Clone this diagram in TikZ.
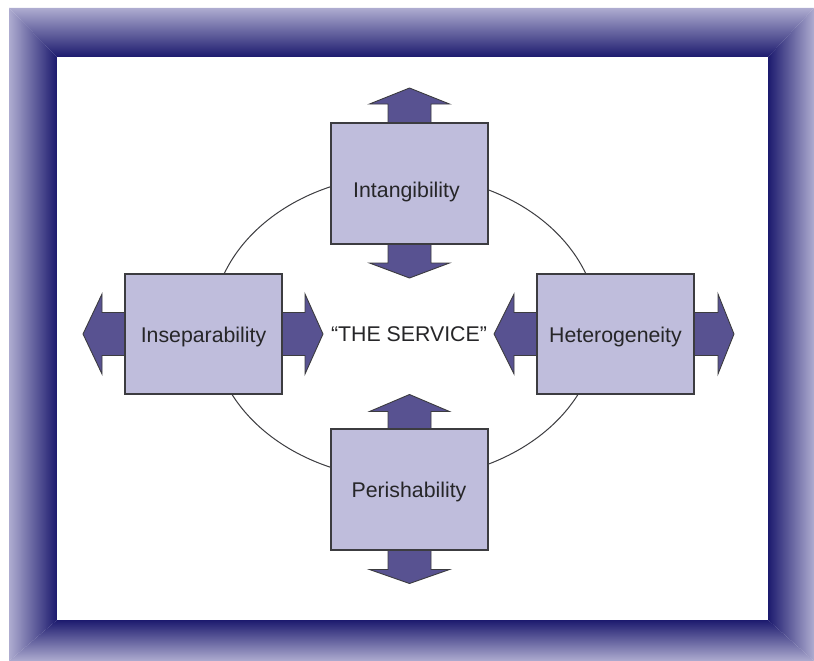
\documentclass[tikz,border=0pt]{standalone}
\usepackage{fontspec}
\setmainfont{Liberation Sans}
\usetikzlibrary{calc}
\definecolor{frameLight}{RGB}{174,172,208}
\definecolor{frameDark}{RGB}{28,26,110}
\definecolor{boxFill}{RGB}{191,189,220}
\definecolor{arrowFill}{RGB}{88,82,145}
\definecolor{edgeGray}{RGB}{60,60,64}
\definecolor{textGray}{RGB}{38,38,40}
\tikzset{
  svbox/.style={draw=edgeGray, line width=1.1pt, fill=boxFill, inner sep=0pt,
    minimum width=157pt, minimum height=120pt},
  lbl/.style={text=textGray, inner sep=0pt, font=\fontsize{21.3}{25}\selectfont},
  arr/.style={draw=edgeGray, line width=0.9pt, fill=arrowFill, line join=miter},
  ring/.style={draw=edgeGray, line width=1pt}
}
\newcommand\fatarrow[4]{%
  \draw[arr, shift={(#1)}, rotate=#2]
    (-3,-21.5) -- (#3,-21.5) -- (#3,-40) -- ({#3+#4},0) -- (#3,40) -- (#3,21.5) -- (-3,21.5) -- cycle;}
\begin{document}
\begin{tikzpicture}[x=1pt,y=-1pt]
\useasboundingbox (0,0) rectangle (814,661);
% bevelled frame
\shade[top color=frameLight,bottom color=frameDark] (9,8) -- (814,8) -- (768,57) -- (57,57) -- cycle;
\shade[left color=frameLight,right color=frameDark] (9,8) -- (57,57) -- (57,620) -- (9,661) -- cycle;
\shade[left color=frameDark,right color=frameLight] (814,8) -- (814,661) -- (768,620) -- (768,57) -- cycle;
\shade[top color=frameDark,bottom color=frameLight] (9,661) -- (57,620) -- (768,620) -- (814,661) -- cycle;
\fill[white] (57,57) rectangle (768,620);
% ellipse
\coordinate (C) at (405,327);
\draw[ring] (C) ellipse [x radius=193, y radius=152];
% box positions
\coordinate (Ipos) at (409.5,183.5);
\coordinate (Ppos) at (409.5,489.5);
\coordinate (Spos) at (203.5,334);
\coordinate (Hpos) at (615.5,334);
% arrows
\fatarrow{409.5,123}{90}{19}{16}
\fatarrow{409.5,244}{-90}{19}{15}
\fatarrow{409.5,429.5}{90}{18}{17}
\fatarrow{409.5,549.5}{-90}{20}{14}
\fatarrow{125,334}{180}{23}{19}
\fatarrow{282,334}{0}{23}{18}
\fatarrow{537,334}{180}{23}{20}
\fatarrow{694,334}{0}{24}{16}
% boxes
\node[svbox, minimum height=121pt] (I) at (Ipos) {};
\node[svbox, minimum height=121pt] (P) at (Ppos) {};
\node[svbox] (S) at (Spos) {};
\node[svbox] (H) at (Hpos) {};
% labels
\node[lbl, anchor=base] (It) at (406.5,197) {Intangibility};
\node[lbl, anchor=base] (Pt) at (409,497) {Perishability};
\node[lbl, anchor=base] (St) at (203.5,342) {Inseparability};
\node[lbl, anchor=base] (Ht) at (615.5,342) {Heterogeneity};
\node[lbl, anchor=base] (Svc) at (409,341) {“THE SERVICE”};
\end{tikzpicture}
\end{document}
